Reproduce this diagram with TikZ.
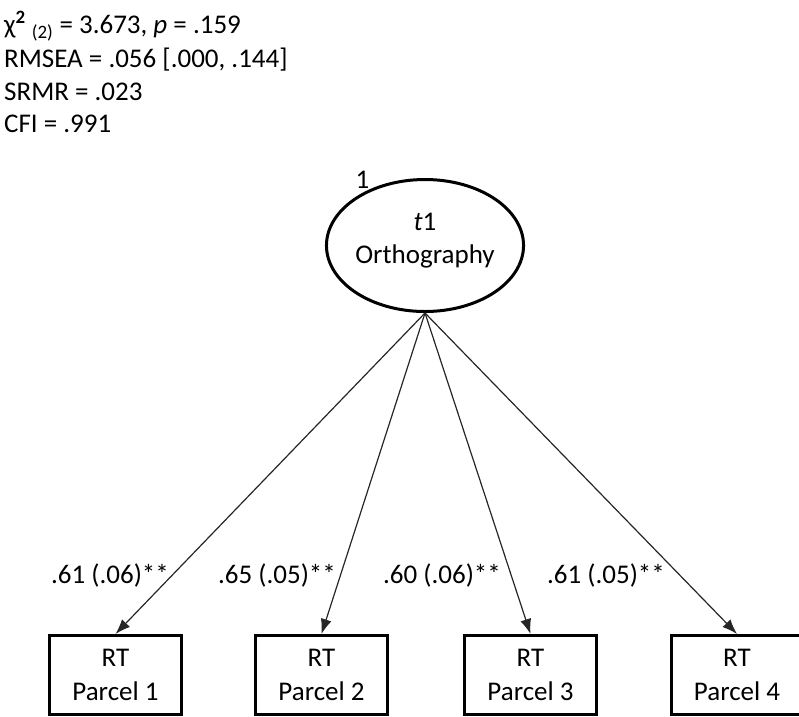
\documentclass[tikz,border=0pt]{standalone}
\usepackage{fontspec}
\setmainfont{Carlito}
\usetikzlibrary{shapes.geometric,arrows.meta}
\begin{document}
\begin{tikzpicture}[x=1pt,y=-1pt,
  every node/.style={font=\fontsize{27}{33}\selectfont, text=black},
  hdr/.style={anchor=base west, inner sep=0pt},
  latent/.style={ellipse, draw=black, line width=3pt, minimum width=177pt, minimum height=132pt, inner sep=0pt, align=center},
  obs/.style={rectangle, draw=black, line width=3pt, minimum width=132pt, minimum height=78.5pt, inner sep=0pt, align=center, font=\fontsize{27}{34}\selectfont},
  load/.style={draw=black!85, line width=1.2pt, -{Latex[length=15pt,width=11pt]}},
  lbl/.style={anchor=base, inner sep=0pt}
]
\useasboundingbox (0,0) rectangle (799,716);
% fit indices
\node[hdr] (h1) at (4,33) {χ\textsuperscript{\textbf{2}} \textsubscript{(2)} = 3.673, \textit{p} = .159};
\node[hdr] (h2) at (4,67) {RMSEA = .056 [.000, .144]};
\node[hdr] (h3) at (4,100) {SRMR = .023};
\node[hdr] (h4) at (4,132) {CFI = .991};
% latent
\node[latent] (e) at (425,245.5) {\textit{t}1\\Orthography\rule[-14pt]{0pt}{14pt}};
\node[lbl] (one) at (362.5,188) {1};
% observed
\node[obs] (b1) at (115.5,674.75) {RT\\Parcel 1};
\node[obs] (b2) at (321.5,674.75) {RT\\Parcel 2};
\node[obs] (b3) at (530.5,674.75) {RT\\Parcel 3};
\node[obs] (b4) at (737,674.75) {RT\\Parcel 4};
% loadings
\draw[load] (e.south) -- (b1.north);
\draw[load] (e.south) -- (b2.north);
\draw[load] (e.south) -- (b3.north);
\draw[load] (e.south) -- (b4.north);
\node[lbl] (l1) at (110,583) {.61 (.06)**};
\node[lbl] (l2) at (277,583) {.65 (.05)**};
\node[lbl] (l3) at (442,583) {.60 (.06)**};
\node[lbl] (l4) at (606,583) {.61 (.05)**};
\end{tikzpicture}
\end{document}
